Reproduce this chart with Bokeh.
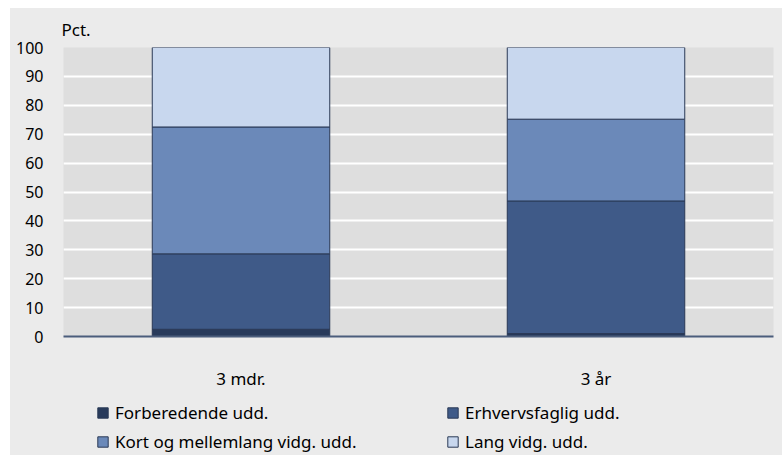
from bokeh.plotting import figure
from bokeh.models import FactorRange, Legend, LegendItem, Title, FixedTicker, Spacer
from bokeh.layouts import row, column
from bokeh.embed import file_html
from bokeh.resources import INLINE

categories = ["3 mdr.", "3 år"]
series_names = ["Forberedende udd.", "Erhvervsfaglig udd.", "Kort og mellemlang vidg. udd.", "Lang vidg. udd."]
forberedende = [2.5, 1.0]
erhvervsfaglig = [26.1, 45.9]
kort_mellemlang = [43.9, 28.3]
lang = [27.5, 24.8]
y_ticks = [0, 10, 20, 30, 40, 50, 60, 70, 80, 90, 100]

colors = ["#283a5b", "#3f5a88", "#6b89b9", "#c8d7ee"]
keys = ["forb", "erhv", "kort", "lang"]
data = dict(cat=categories, forb=forberedende, erhv=erhvervsfaglig, kort=kort_mellemlang, lang=lang)

FONT = "Noto Sans"
FS = "17px"
TFS = "16px"
BG = "#ebebeb"
OUTLINE = "#2a3956"

p = figure(x_range=FactorRange(*categories, range_padding=0), y_range=(0, 100),
           width=772, height=384, output_backend="svg", toolbar_location=None,
           min_border_left=53, min_border_right=9, min_border_top=39, min_border_bottom=51)
p.background_fill_color = "#dedede"
p.border_fill_color = BG
p.outline_line_color = None

renderers = p.vbar_stack(keys, x="cat", width=0.5, source=data, fill_color=colors,
                         line_color=OUTLINE, line_width=1)

p.xgrid.grid_line_color = None
p.ygrid.grid_line_color = "#ffffff"
p.ygrid.grid_line_width = 2
p.ygrid.ticker = FixedTicker(ticks=y_ticks)

p.yaxis.ticker = FixedTicker(ticks=y_ticks)
p.yaxis.axis_line_color = None
p.yaxis.major_tick_line_color = None
p.yaxis.minor_tick_line_color = None
p.yaxis.major_label_standoff = 14
p.yaxis.major_label_text_font = FONT
p.yaxis.major_label_text_font_size = TFS
p.yaxis.major_label_text_color = "#000000"

p.xaxis.axis_line_color = "#4b5d7c"
p.xaxis.axis_line_width = 2
p.xaxis.major_tick_line_color = None
p.xaxis.minor_tick_line_color = None
p.xaxis.major_label_standoff = 24
p.xaxis.major_label_text_font = FONT
p.xaxis.major_label_text_font_size = FS
p.xaxis.major_label_text_color = "#000000"

p.add_layout(Title(text="Pct.", align="left", offset=-2, standoff=13,
                   text_font=FONT, text_font_size=FS, text_font_style="normal",
                   text_color="#000000"), "above")

# legend panel (separate figure so the legend is not clipped)
lg = figure(width=772, height=63, output_backend="svg", toolbar_location=None,
            x_range=(0, 1), y_range=(0, 1), x_axis_location=None, y_axis_location=None,
            min_border_left=53, min_border_right=9, min_border_top=0, min_border_bottom=0)
lg.background_fill_color = BG
lg.border_fill_color = BG
lg.outline_line_color = None
for g in list(lg.center):
    g.visible = False
# off-range placeholders: only their legend swatches are visible
dummies = [lg.vbar(x=[-1], top=[0], width=0.1, fill_color=c, line_color=OUTLINE) for c in colors]
order = [0, 2, 1, 3]
items = [LegendItem(label=series_names[i], renderers=[dummies[i]]) for i in order]
legend = Legend(items=items, ncols=2, location=(33, 2), padding=0, margin=0,
                spacing=6, glyph_width=13, glyph_height=13, label_standoff=6,
                label_width=325, label_height=20, background_fill_alpha=0,
                border_line_color=None, label_text_font=FONT,
                label_text_font_size=FS, label_text_color="#000000")
lg.add_layout(legend, "center")

inner = column(p, lg, styles={"background-color": BG})
layout = row(Spacer(width=10, height=455), column(Spacer(width=772, height=8), inner))

open("out.html", "w").write(file_html(layout, INLINE))
